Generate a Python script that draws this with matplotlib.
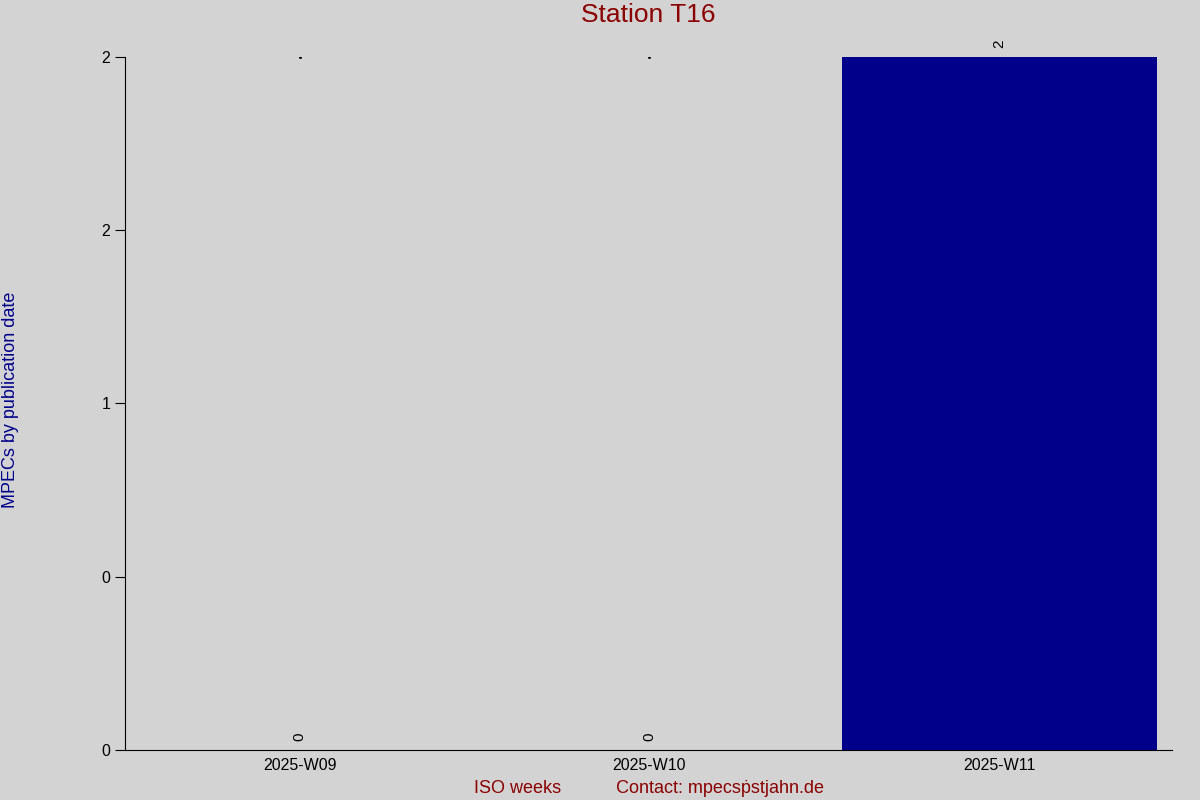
import matplotlib
matplotlib.use("Agg")
import matplotlib.pyplot as plt
from matplotlib.ticker import FormatStrFormatter

semanas = ["2025-W09", "2025-W10", "2025-W11"]
mpecs = [0, 0, 2]

plt.rcParams['font.family'] = ['Liberation Sans', 'DejaVu Sans']

fondo = '#d3d3d3'
fig = plt.figure(figsize=(12, 8), dpi=100, facecolor=fondo)
ax = fig.add_axes([0.104, 0.0625, 0.873, 0.8665], facecolor=fondo)

x = list(range(len(semanas)))
ax.bar(x, mpecs, width=0.9, color='#00008b')

ymax = max(mpecs)
for xi, v in zip(x, mpecs):
    ax.text(xi, v + 0.025, str(v), rotation=90, ha='center', va='bottom', fontsize=11)
    if v == 0:
        # puntitos raros arriba de las barras vacias
        ax.plot(xi, ymax, marker='s', ms=1, color='black')

ax.set_xlim(-0.5, 2.495)
ax.set_ylim(0, ymax)
ax.set_xticks(x)
ax.set_xticklabels(semanas, fontsize=11.5)
ax.set_yticks([0, 0.5, 1, 1.5, 2])
ax.yaxis.set_major_formatter(FormatStrFormatter('%.0f'))
ax.tick_params(axis='y', labelsize=11.5, length=7, direction='out')
ax.tick_params(axis='x', length=0, pad=6)

for s in ['top', 'right']:
    ax.spines[s].set_visible(False)

ax.set_title('Station T16', color='#8b0000', fontsize=19, pad=25)
fig.text(0.009, 0.5, 'MPECs by publication date', color='#00008b', fontsize=13,
         rotation=90, ha='center', va='center')
ax.set_xlabel('ISO weeks           Contact: mpecs\u1e57stjahn.de', color='#8b0000',
              fontsize=13, labelpad=5)

plt.savefig("out.png", facecolor=fondo)
